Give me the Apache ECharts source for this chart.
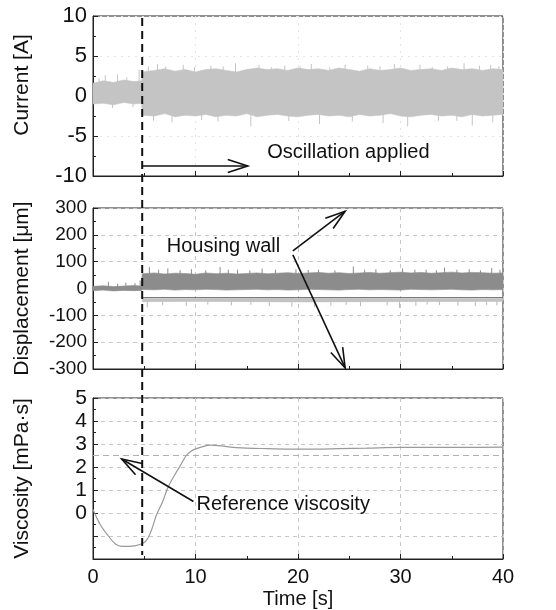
<!DOCTYPE html>
<html><head><meta charset="utf-8">
<script src="https://cdn.jsdelivr.net/npm/echarts@6/dist/echarts.min.js"></script>
<style>html,body{margin:0;padding:0;background:#fff}#c{width:556px;height:610px}</style>
</head><body><div id="c"></div>
<script>
// ---------- data ----------
const oscStart = 4.8;
// Current [A]: envelope of the noisy signal
const curT  = [0, 1, 2, 3, 4, 4.75, 4.8, 6, 7, 8, 9, 10, 11, 12, 13, 14, 15, 16, 17, 18, 19, 20, 21, 22, 23, 24, 25, 26, 27, 28, 29, 30, 31, 32, 33, 34, 35, 36, 37, 38, 39, 40];
const curHi = [1.6, 1.9, 1.7, 2.0, 1.8, 1.9, 3.0, 3.2, 3.4, 3.1, 3.3, 3.0, 3.3, 3.4, 3.2, 3.0, 3.3, 3.5, 3.3, 3.4, 3.2, 3.5, 3.3, 3.4, 3.2, 3.5, 3.3, 3.1, 3.4, 3.2, 3.3, 3.5, 3.2, 3.3, 3.4, 3.2, 3.5, 3.3, 3.4, 3.2, 3.4, 3.3];
const curLo = [-1.0, -0.9, -1.1, -0.8, -1.0, -0.9, -2.4, -2.5, -2.2, -2.6, -2.4, -2.5, -2.3, -2.6, -2.4, -2.5, -2.2, -2.6, -2.4, -2.3, -2.5, -2.6, -2.4, -2.3, -2.5, -2.4, -2.6, -2.3, -2.5, -2.4, -2.2, -2.5, -2.6, -2.4, -2.3, -2.5, -2.4, -2.6, -2.3, -2.5, -2.4, -2.3];
const curSpikeT = [0.6, 1.2, 2.4, 3.3, 4.5, 5.4, 6.3, 7.1, 8.8, 9.9, 11.5, 12.7, 13.9, 16.2, 17.4, 18.7, 20.2, 21.3, 23.1, 24.6, 26.8, 28.0, 29.4, 31.9, 33.1, 34.6, 36.2, 37.7, 38.8, 39.6,
                   1.9, 3.9, 5.9, 7.7, 10.6, 12.2, 15.4, 19.1, 22.1, 25.3, 28.3, 30.7, 33.7, 35.5, 37.0, 39.0];
const curSpikeV = [2.2, 2.6, 2.7, 2.3, 3.3, 3.7, 4.0, 3.7, 3.9, 3.6, 3.8, 3.7, 4.1, 3.9, 3.6, 3.8, 3.7, 4.0, 3.6, 3.9, 3.8, 3.7, 4.0, 3.9, 3.6, 3.7, 4.1, 3.8, 3.9, 3.7,
                   -1.5, -1.4, -3.1, -3.3, -3.0, -3.2, -3.8, -3.1, -3.5, -3.2, -3.4, -3.8, -3.1, -3.1, -3.7, -3.3];
// Displacement [µm]
const dispHi = [8, 10, 7, 9, 11, 9, 55, 58, 54, 57, 56, 53, 58, 55, 57, 54, 56, 58, 55, 57, 59, 56, 58, 60, 57, 59, 56, 58, 60, 57, 59, 61, 58, 60, 57, 59, 61, 58, 60, 59, 57, 58];
const dispLo = [-8, -6, -9, -7, -8, -7, -4, -5, -3, -6, -4, -5, -3, -4, -6, -5, -4, -3, -5, -4, -6, -5, -3, -4, -5, -6, -4, -3, -5, -4, -5, -6, -3, -4, -5, -4, -3, -5, -6, -4, -5, -4];
const dispSpikeT = [1.5, 2.4, 3.2, 4.1, 4.6, 5.5, 6.4, 7.3, 8.5, 9.6, 11.0, 12.4, 13.2, 14.1, 15.3, 16.5, 17.8, 19.8, 21.0, 22.0, 23.6, 25.4, 26.5, 27.6, 29.0, 30.2, 31.4, 32.5, 33.5, 34.3, 35.5, 36.7, 37.8, 38.9, 39.7];
const dispSpikeV = [25, 18, 22, 20, 30, 80, 70, 75, 68, 72, 68, 80, 70, 70, 68, 74, 70, 72, 69, 70, 68, 82, 70, 72, 68, 75, 70, 70, 68, 78, 70, 72, 68, 76, 70];
const lineT = [4.8, 40];
const lineV = [-34, -34];
const lowT   = [4.8, 10, 20, 30, 40];
const lowTop = [-38, -38, -37, -38, -38];
const lowBot = [-49, -48, -50, -49, -48];
const lowSpikeT = [5.3, 6.8, 9.1, 11.2, 13.5, 15.4, 17.2, 19.4, 21.6, 23.2, 24.7, 26.1, 28.7, 29.9, 31.5, 32.6, 33.8, 35.6, 37.3, 38.4, 39.4];
const lowSpikeV = [-70, -62, -65, -60, -63, -61, -66, -68, -70, -64, -61, -66, -63, -72, -65, -60, -62, -64, -66, -61, -63];
// Viscosity [mPa·s]
const visT = [0, 0.7, 1.5, 2.2, 2.8, 3.5, 4.6, 5.2, 5.7, 6.2, 6.8, 7.3, 7.9, 8.5, 9.1, 9.6, 10.1, 10.8, 11.4, 12.5, 13.7, 15, 17, 19.5, 21.8, 24, 26.7, 29.9, 33, 36, 40];
const visV = [0.15, -0.5, -1.0, -1.35, -1.45, -1.45, -1.37, -1.2, -0.75, -0.08, 0.5, 1.1, 1.6, 2.05, 2.5, 2.7, 2.8, 2.9, 2.95, 2.92, 2.85, 2.82, 2.8, 2.78, 2.78, 2.8, 2.82, 2.85, 2.85, 2.85, 2.86];
const refT = [0, 40];
const refV = [2.5, 2.5];
// axes
const xRange = [0, 40, 10];
const curRange = [-10, 10, 5];
const dispRange = [-300, 300, 100];
const visRange = [-2, 5, 1];
const yNames = ['Current [A]', 'Displacement [μm]', 'Viscosity [mPa·s]'];
const xName = 'Time [s]';
// annotations (data coordinates)
const texts = [
  {grid: 0, at: [17, -7.1], text: 'Oscillation applied'},
  {grid: 1, at: [7.2, 156], text: 'Housing wall'},
  {grid: 2, at: [10.1, 0.38], text: 'Reference viscosity'}
];
const arrows = [
  {grid: 0, from: [4.8, -8.75], to: [15.1, -8.75]},
  {grid: 1, from: [19.5, 140], to: [24.6, 288]},
  {grid: 1, from: [19.5, 125], to: [24.6, -296]},
  {grid: 2, from: [9.8, 0.5], to: [2.8, 2.35]}
];

// ---------- chart ----------
const FONT = 'Liberation Sans';
const chart = echarts.init(document.getElementById('c'), null, {renderer: 'canvas'});
const grids = [
  {left: 93, top: 16, width: 410, height: 160},
  {left: 93, top: 208, width: 410, height: 161},
  {left: 93, top: 398, width: 410, height: 161}
].map(g => Object.assign(g, {show: true, borderColor: '#222', borderWidth: 1, containLabel: false, outerBoundsMode: 'none'}));

const splitStyle = {show: true, lineStyle: {color: '#c8c8c8', type: [4, 4], width: 1}};
const faintSplit = {show: true, lineStyle: {color: '#e4e4e4', type: [2, 5], width: 1}};
const xAxes = [0, 1, 2].map(i => ({
  type: 'value', gridIndex: i, min: xRange[0], max: xRange[1], interval: xRange[2],
  axisLine: {show: true, onZero: false, lineStyle: {color: '#222'}},
  axisTick: {show: true, inside: true, length: 5, lineStyle: {color: '#222'}},
  minorTick: {show: true, splitNumber: 2, length: 3, lineStyle: {color: '#222'}},
  splitLine: i === 0 ? faintSplit : splitStyle,
  axisLabel: {show: i === 2, fontFamily: FONT, fontSize: 20, color: '#111', margin: 8},
  name: i === 2 ? xName : '', nameLocation: 'middle', nameGap: 30,
  nameTextStyle: {fontFamily: FONT, fontSize: 20, color: '#111'}
}));
const ranges = [curRange, dispRange, visRange];
const labelSizes = [22, 19, 21];
const yAxes = [0, 1, 2].map(i => ({
  type: 'value', gridIndex: i, min: ranges[i][0], max: ranges[i][1], interval: ranges[i][2],
  axisLine: {show: true, onZero: false, lineStyle: {color: '#222'}},
  axisTick: {show: true, inside: true, length: 5, lineStyle: {color: '#222'}},
  minorTick: {show: true, splitNumber: 2, length: 3, lineStyle: {color: '#222'}},
  splitLine: i === 0 ? faintSplit : splitStyle,
  axisLabel: {fontFamily: FONT, fontSize: labelSizes[i], color: '#111', margin: 6,
    formatter: v => (i === 2 && v < 0) ? '' : String(v)},
  name: yNames[i], nameLocation: 'middle', nameGap: 60, nameRotate: 90,
  nameTextStyle: {fontFamily: FONT, fontSize: 21, color: '#111', padding: i === 0 ? [0, 0, 0, 22] : 0}
}));

function bandSeries(ai, T, LO, HI, color) {
  return {
    type: 'custom', xAxisIndex: ai, yAxisIndex: ai, silent: true, clip: true,
    data: T.map((t, k) => [t, LO[k], HI[k]]),
    encode: {x: 0, y: [1, 2]},
    renderItem: function (params, api) {
      if (params.dataIndex !== 0) return null;
      const pts = [];
      for (let k = 0; k < T.length; k++) pts.push(api.coord([T[k], HI[k]]));
      for (let k = T.length - 1; k >= 0; k--) pts.push(api.coord([T[k], LO[k]]));
      return {type: 'polygon', shape: {points: pts}, style: {fill: color, stroke: color, lineWidth: 0.6}};
    }
  };
}
function spikeSeries(ai, T, V, base, color) {
  return {
    type: 'custom', xAxisIndex: ai, yAxisIndex: ai, silent: true, clip: true,
    data: T.map((t, k) => [t, V[k]]),
    encode: {x: 0, y: 1},
    renderItem: function (params, api) {
      const p0 = api.coord([api.value(0), base]);
      const p1 = api.coord([api.value(0), api.value(1)]);
      return {type: 'line', shape: {x1: p0[0], y1: p0[1], x2: p1[0], y2: p1[1]}, style: {stroke: color, lineWidth: 1}};
    }
  };
}
function lineSeries(ai, T, V, color, width, type, smooth) {
  return {
    type: 'line', xAxisIndex: ai, yAxisIndex: ai, silent: true, showSymbol: false, smooth: smooth || false,
    data: T.map((t, k) => [t, V[k]]),
    lineStyle: {color: color, width: width, type: type || 'solid'}, animation: false
  };
}

chart.setOption({
  animation: false,
  backgroundColor: '#fff',
  grid: grids, xAxis: xAxes, yAxis: yAxes,
  series: [
    spikeSeries(0, curSpikeT, curSpikeV, 0, '#c4c4c4'),
    bandSeries(0, curT, curLo, curHi, '#c4c4c4'),
    spikeSeries(1, dispSpikeT, dispSpikeV, 0, '#8c8c8c'),
    bandSeries(1, curT, dispLo, dispHi, '#8c8c8c'),
    spikeSeries(1, lowSpikeT, lowSpikeV, -45, '#b8b8b8'),
    bandSeries(1, lowT, lowBot, lowTop, '#c2c2c2'),
    lineSeries(1, lineT, lineV, '#6a6a6a', 1),
    lineSeries(2, refT, refV, '#b0b0b0', 1, [6, 4]),
    lineSeries(2, visT, visV, '#999999', 1.2, 'solid', 0.35)
  ]
});

// overlay: dashed onset line, arrows and annotation text (positions computed from data coords)
function arrowEls(a) {
  const p0 = chart.convertToPixel({gridIndex: a.grid}, a.from);
  const p1 = chart.convertToPixel({gridIndex: a.grid}, a.to);
  const dx = p1[0] - p0[0], dy = p1[1] - p0[1];
  const L = Math.hypot(dx, dy), ux = dx / L, uy = dy / L;
  const hl = 20, hw = 6.5;
  const bx = p1[0] - ux * hl, by = p1[1] - uy * hl;
  return [
    {type: 'line', shape: {x1: p0[0], y1: p0[1], x2: p1[0], y2: p1[1]}, style: {stroke: '#111', lineWidth: 1.6}, z: 100},
    {type: 'polyline', shape: {points: [[bx - uy * hw, by + ux * hw], p1, [bx + uy * hw, by - ux * hw]]},
      style: {stroke: '#111', lineWidth: 1.6, fill: null}, z: 100}
  ];
}
const els = [];
const pTop = chart.convertToPixel({gridIndex: 0}, [oscStart, curRange[1]]);
const pBot = chart.convertToPixel({gridIndex: 2}, [oscStart, visRange[0]]);
els.push({type: 'line', shape: {x1: pTop[0], y1: pTop[1] + 2, x2: pBot[0], y2: pBot[1] - 4},
  style: {stroke: '#111', lineWidth: 2, lineDash: [8, 5]}, z: 100});
arrows.forEach(a => arrowEls(a).forEach(e => els.push(e)));
texts.forEach(t => {
  const p = chart.convertToPixel({gridIndex: t.grid}, t.at);
  els.push({type: 'text', x: p[0], y: p[1], z: 100,
    style: {text: t.text, fontFamily: FONT, fontSize: 20, fill: '#111', align: 'left', verticalAlign: 'middle'}});
});
chart.setOption({graphic: els});
</script>
</body></html>
